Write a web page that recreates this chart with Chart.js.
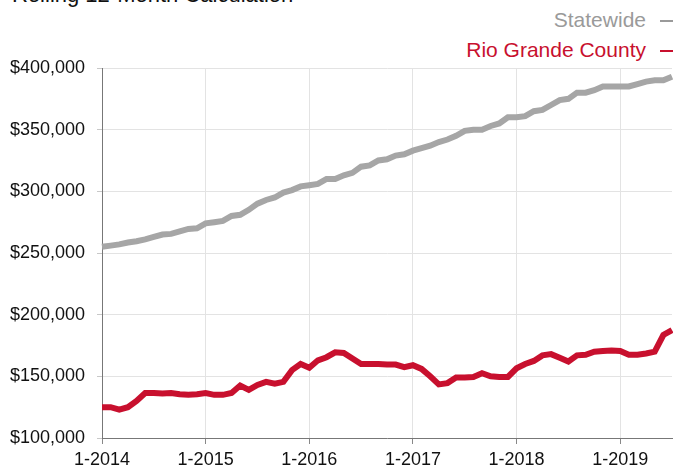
<!DOCTYPE html>
<html>
<head>
<meta charset="utf-8">
<script src="https://cdn.jsdelivr.net/npm/chart.js@4"></script>
<style>
  html, body { margin: 0; padding: 0; background: #fff; }
  .wrap { position: relative; width: 673px; height: 470px; overflow: hidden; font-family: "Liberation Sans", Arial, sans-serif; }
  .title { position: absolute; left: 12px; top: -16px; font-size: 22px; line-height: 22px; color: #111; white-space: nowrap; }
  .legend { position: absolute; right: 0; font-size: 21px; line-height: 24px; white-space: nowrap; text-align: right; }
  .legend span.dash { display: inline-block; width: 13px; height: 2px; margin-left: 14px; vertical-align: middle; }
  canvas { position: absolute; left: 0; top: 0; }
</style>
</head>
<body>
<div class="wrap">
  <div class="title">Rolling 12-Month Calculation</div>
  <div class="legend" style="top:8px;color:#9a9a9a">Statewide<span class="dash" style="background:#9a9a9a"></span></div>
  <div class="legend" style="top:38px;color:#c8102e">Rio Grande County<span class="dash" style="background:#c8102e"></span></div>
  <canvas id="Canvas" width="673" height="470"></canvas>
</div>
<script>
// months 1-2014 .. 7-2019
const months = [];
for (let y = 2014; y <= 2019; y++) {
    for (let m = 1; m <= 12; m++) {
        if (y === 2019 && m > 7) break;
        months.push(m + '-' + y);
    }
}

const statewide = [
    255, 256, 257, 258.5, 259.5, 261, 263, 265, 265.5, 267.5, 269.5, 270,
    274, 275, 276, 280, 281, 285, 290, 293, 295, 299, 301, 304,
    305, 306, 310, 310, 313, 315, 320, 321, 325, 326, 329, 330,
    333, 335, 337, 340, 342, 345, 349, 350, 350, 353, 355, 360,
    360, 361, 365, 366, 370, 374, 375, 380, 380, 382, 385, 385,
    385, 385, 387, 389, 390, 390, 393
].map(v => v * 1000);

const rioGrande = [
    125, 125, 123, 125, 130, 136.5, 136.5, 136, 136.5, 135.5, 135, 135.5,
    136.5, 135, 135, 136.5, 142.5, 139, 143, 145.5, 144, 145.5, 155, 160,
    157, 163, 165.5, 169.5, 169, 164.5, 160, 160, 160, 159.5, 159.5, 157.5,
    159, 156, 150, 143.5, 144.5, 149, 149, 149.5, 152.5, 150, 149.5, 149.5,
    156.5, 160, 162.5, 167, 168, 165, 162, 167, 167.5, 170, 170.5, 171,
    170.5, 167.5, 167.5, 168.5, 170, 183.5, 187.5
].map(v => v * 1000);

const yTicks = [100000, 150000, 200000, 250000, 300000, 350000, 400000];

const ctx = document.getElementById('Canvas').getContext('2d');
const font = { family: '"Liberation Sans", Arial, sans-serif', size: 18 };

new Chart(ctx, {
    type: 'line',
    data: {
        labels: months,
        datasets: [
            {
                label: 'Statewide',
                data: statewide,
                borderColor: '#a6a6a6',
                backgroundColor: 'transparent',
                borderWidth: 6,
                pointRadius: 0
            },
            {
                label: 'Rio Grande County',
                data: rioGrande,
                borderColor: '#c8102e',
                backgroundColor: 'transparent',
                borderWidth: 6,
                pointRadius: 0
            }
        ]
    },
    options: {
        responsive: false,
        animation: false,
        devicePixelRatio: 1,
        layout: { padding: { top: 68, right: 1, left: 0, bottom: 0 } },
        plugins: { legend: { display: false }, tooltip: { enabled: false } },
        elements: { line: { tension: 0 } },
        scales: {
            x: {
                offset: false,
                grid: { color: '#e3e3e3', tickColor: '#888', tickLength: 6 },
                border: { color: '#777', width: 1 },
                ticks: {
                    autoSkip: false,
                    maxRotation: 0,
                    padding: 5,
                    color: '#111',
                    font: font,
                    callback: (v, i) => (i % 12 === 0 ? months[i] : null)
                },
                afterFit: s => { s.height = 32; }
            },
            y: {
                min: 100000,
                max: 400000,
                afterBuildTicks: s => { s.ticks = yTicks.map(v => ({ value: v })); },
                grid: { color: '#e3e3e3', tickColor: '#c8c8c8', tickLength: 5 },
                border: { color: '#777', width: 1 },
                ticks: {
                    padding: 12,
                    color: '#111',
                    font: font,
                    callback: v => '$' + v.toLocaleString('en-US')
                },
                afterFit: s => { s.width = 102; }
            }
        }
    }
});
</script>
</body>
</html>
